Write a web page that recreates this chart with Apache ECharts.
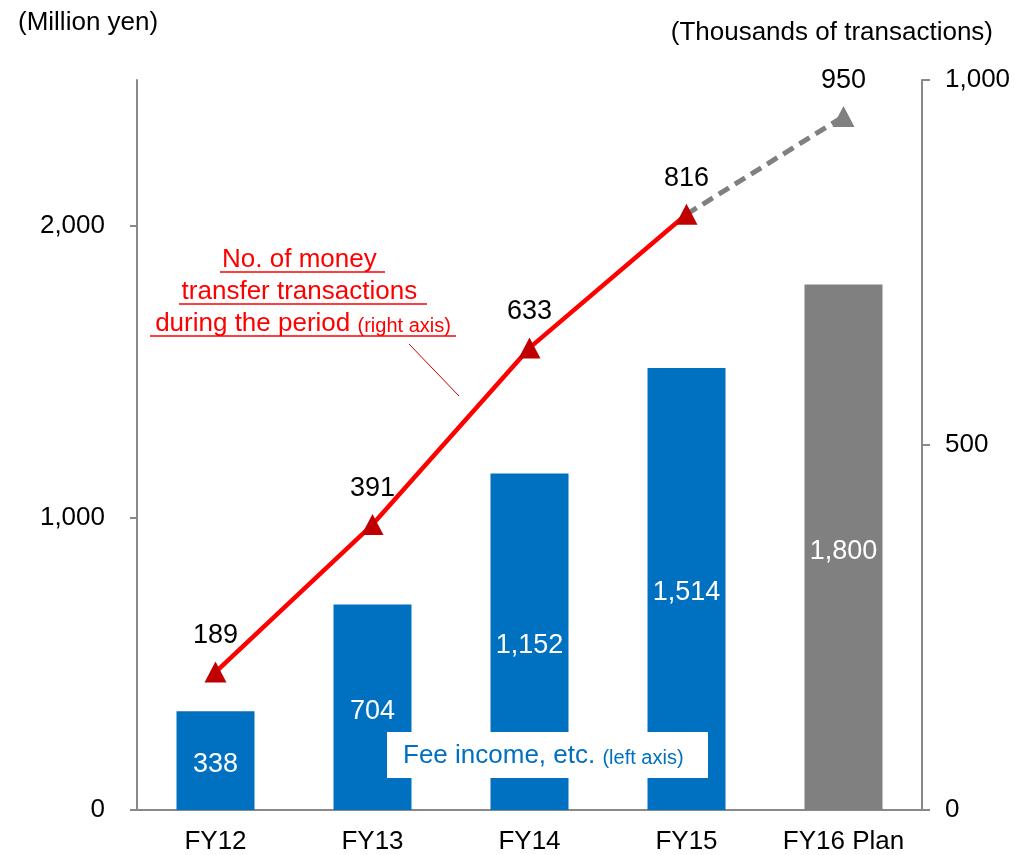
<!DOCTYPE html>
<html>
<head>
<meta charset="utf-8">
<title>Fee income and money transfer transactions</title>
<script src="https://cdn.jsdelivr.net/npm/echarts@6/dist/echarts.min.js"></script>
<style>
  html, body { margin: 0; padding: 0; background: #fff; }
  #chart { width: 1015px; height: 855px; }
</style>
</head>
<body>
<div id="chart"></div>
<script>
// data
const categories = ['FY12', 'FY13', 'FY14', 'FY15', 'FY16 Plan'];
const feeIncome = [338, 704, 1152, 1514, 1800];       // million yen, left axis
const transactions = [189, 391, 633, 816, 950];       // thousands, right axis
const isPlan = [false, false, false, false, true];
const leftTicks = [0, 1000, 2000];
const rightTicks = [0, 500, 1000];

const FONT = "'Liberation Sans', Arial, sans-serif";
const BLUE = '#0070C0';
const GRAY = '#808080';
const RED = '#FF0000';
const DARKRED = '#C00000';
const AXIS = '#898989';

const fmt = v => Number(v).toLocaleString('en-US');

// bars: plan year in gray
const barData = feeIncome.map((v, i) => ({
  value: v,
  itemStyle: { color: isPlan[i] ? GRAY : BLUE }
}));

// solid red line for actual years, dashed gray segment into the plan year
const actualLine = transactions.map((v, i) => isPlan[i] ? '-' : v);
const planLine = transactions.map((v, i) => {
  if (isPlan[i]) return v;
  if (isPlan[i + 1]) return { value: v, symbol: 'none', label: { show: false } };
  return '-';
});

const chart = echarts.init(document.getElementById('chart'));

const option = {
  animation: false,
  textStyle: { fontFamily: FONT },
  grid: { left: 137, right: 93, top: 80, bottom: 45 },
  xAxis: {
    type: 'category',
    data: categories,
    axisLine: { lineStyle: { color: AXIS, width: 2 } },
    axisTick: { interval: 0, length: 8, lineStyle: { color: AXIS, width: 2 } },
    axisLabel: { interval: 0, color: '#000', fontSize: 26, margin: 19, fontFamily: FONT }
  },
  yAxis: [
    {
      type: 'value',
      min: 0,
      max: 2500,
      interval: 500,
      splitLine: { show: false },
      axisLine: { show: true, lineStyle: { color: AXIS, width: 2 } },
      axisTick: { show: true, length: 7, customValues: leftTicks, lineStyle: { color: AXIS, width: 2 } },
      axisLabel: { color: '#000', fontSize: 26, margin: 32, customValues: leftTicks, formatter: fmt, fontFamily: FONT }
    },
    {
      type: 'value',
      min: 0,
      max: 1000,
      interval: 500,
      position: 'right',
      splitLine: { show: false },
      axisLine: { show: true, lineStyle: { color: AXIS, width: 2 } },
      axisTick: { show: true, length: 8, customValues: rightTicks, lineStyle: { color: AXIS, width: 2 } },
      axisLabel: { color: '#000', fontSize: 26, margin: 23, customValues: rightTicks, formatter: fmt, fontFamily: FONT }
    }
  ],
  series: [
    {
      name: 'Fee income, etc.',
      type: 'bar',
      barWidth: 78,
      data: barData,
      z: 2,
      label: {
        show: true,
        position: 'inside',
        offset: [0, 4],
        color: '#fff',
        fontSize: 27,
        fontFamily: FONT,
        formatter: p => fmt(p.value)
      }
    },
    {
      name: 'plan',
      type: 'line',
      yAxisIndex: 1,
      data: planLine,
      symbol: 'triangle',
      symbolSize: [22, 21],
      itemStyle: { color: GRAY },
      lineStyle: { color: GRAY, width: 5, type: [12, 7] },
      label: { show: true, position: 'top', distance: 12, color: '#000', fontSize: 27, fontFamily: FONT },
      z: 3
    },
    {
      name: 'No. of money transfer transactions',
      type: 'line',
      yAxisIndex: 1,
      data: actualLine,
      symbol: 'triangle',
      symbolSize: [22, 21],
      itemStyle: { color: DARKRED },
      lineStyle: { color: RED, width: 4.5 },
      label: { show: true, position: 'top', distance: 12, color: '#000', fontSize: 27, fontFamily: FONT },
      z: 4
    }
  ],
  graphic: [
    // axis unit captions
    { type: 'text', left: 18, top: 10, style: { text: '(Million yen)', font: '26px ' + FONT, fill: '#000' } },
    { type: 'text', right: 22, top: 20, style: { text: '(Thousands of transactions)', font: '26px ' + FONT, fill: '#000' } },

    // red callout for the line (underlined)
    { type: 'text', x: 303, y: 260, z: 10, style: { text: 'No. of money ', font: '26px ' + FONT, fill: RED, align: 'center', verticalAlign: 'middle' } },
    { type: 'text', x: 303, y: 292, z: 10, style: { text: 'transfer transactions ', font: '26px ' + FONT, fill: RED, align: 'center', verticalAlign: 'middle' } },
    {
      type: 'text', x: 303, y: 324, z: 10,
      style: {
        text: '{a|during the period }{b|(right axis)}',
        align: 'center', verticalAlign: 'middle',
        rich: {
          a: { fontSize: 26, fontFamily: FONT, fill: RED, color: RED },
          b: { fontSize: 20, fontFamily: FONT, fill: RED, color: RED, padding: [5, 0, 0, 0] }
        }
      }
    },
    { type: 'line', z: 10, shape: { x1: 220, y1: 272, x2: 385, y2: 272 }, style: { stroke: RED, lineWidth: 1.5 } },
    { type: 'line', z: 10, shape: { x1: 179, y1: 304, x2: 427, y2: 304 }, style: { stroke: RED, lineWidth: 1.5 } },
    { type: 'line', z: 10, shape: { x1: 150, y1: 336, x2: 456, y2: 336 }, style: { stroke: RED, lineWidth: 1.5 } },
    { type: 'line', z: 10, shape: { x1: 409, y1: 344, x2: 459, y2: 396 }, style: { stroke: DARKRED, lineWidth: 1 } },

    // white box with the bar caption
    { type: 'rect', z: 20, shape: { x: 387, y: 732, width: 321, height: 46 }, style: { fill: '#fff' } },
    {
      type: 'text', x: 403, y: 756, z: 21,
      style: {
        text: '{a|Fee income, etc. }{b|(left axis)}',
        verticalAlign: 'middle',
        rich: {
          a: { fontSize: 26, fontFamily: FONT, fill: BLUE, color: BLUE },
          b: { fontSize: 20, fontFamily: FONT, fill: BLUE, color: BLUE, padding: [5, 0, 0, 0] }
        }
      }
    }
  ]
};

chart.setOption(option);
</script>
</body>
</html>
